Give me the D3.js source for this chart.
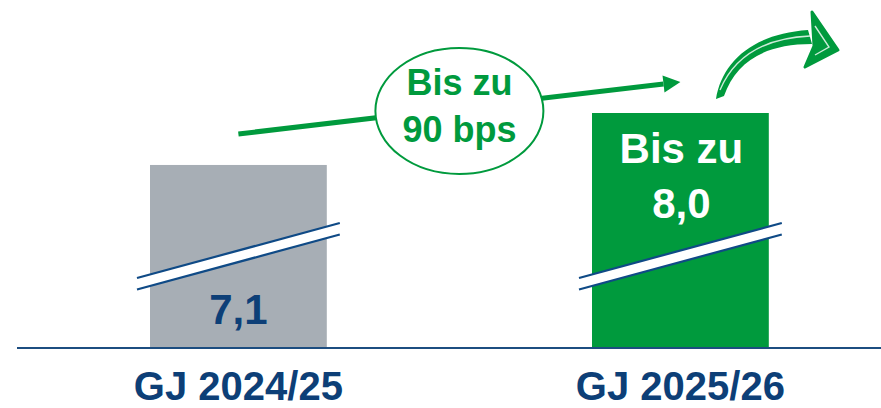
<!DOCTYPE html>
<html>
<head>
<meta charset="utf-8">
<script src="https://cdn.jsdelivr.net/npm/d3@7"></script>
<style>
  html, body { margin: 0; padding: 0; background: #ffffff; }
  svg { display: block; font-family: "Liberation Sans", Arial, sans-serif; }
</style>
</head>
<body>
<svg id="chart" width="881" height="408"></svg>
<script>
// ---- data ----
const categories = ["GJ 2024/25", "GJ 2025/26"];
const values = [7.1, 8.0];
const valueLabels = ["7,1", "Bis zu\n8,0"];
const barColors = ["#a7aeb5", "#009a3d"];
const deltaLabel = ["Bis zu", "90 bps"];
const axisBreakMin = 3.93; // broken value axis: baseline value

// ---- layout ----
const W = 881, H = 408;
const baseY = 348;
const blue = "#0d3f77";
const green = "#009a3d";

const svg = d3.select("#chart");

const x = d3.scaleBand()
  .domain(categories)
  .range([17.4, 901.4])
  .paddingInner(0.6)
  .paddingOuter(0.3);

const y = d3.scaleLinear()
  .domain([axisBreakMin, 8.0])
  .range([baseY, 113]);

// bars
svg.selectAll("rect.bar")
  .data(categories)
  .join("rect")
  .attr("class", "bar")
  .attr("x", d => x(d))
  .attr("y", (d, i) => y(values[i]))
  .attr("width", x.bandwidth())
  .attr("height", (d, i) => baseY - y(values[i]))
  .attr("fill", (d, i) => barColors[i]);

// axis break marks on each bar
const breakY0 = 278, breakSlope = -0.271, breakGap = 11.5, breakExt = 13;
categories.forEach((c) => {
  const x0 = x(c) - breakExt, x1 = x(c) + x.bandwidth() + breakExt;
  const ya = breakY0, yb = breakY0 + (x1 - x0) * breakSlope;
  svg.append("polygon")
    .attr("points", [[x0, ya], [x1, yb], [x1, yb + breakGap], [x0, ya + breakGap]].map(p => p.join(",")).join(" "))
    .attr("fill", "#ffffff");
  [0, breakGap].forEach(off => {
    svg.append("line")
      .attr("x1", x0).attr("y1", ya + off)
      .attr("x2", x1).attr("y2", yb + off)
      .attr("stroke", "#0f4a86").attr("stroke-width", 2.2);
  });
});

// baseline
svg.append("line")
  .attr("x1", 17).attr("x2", W)
  .attr("y1", baseY).attr("y2", baseY)
  .attr("stroke", "#1c4d80").attr("stroke-width", 2.2);

// category labels
svg.selectAll("text.cat")
  .data(categories)
  .join("text")
  .attr("class", "cat")
  .attr("x", d => x(d) + x.bandwidth() / 2)
  .attr("y", 400)
  .attr("text-anchor", "middle")
  .attr("font-size", 40)
  .attr("font-weight", "bold")
  .attr("fill", blue)
  .text(d => d);

// value labels
const cx0 = x(categories[0]) + x.bandwidth() / 2;
const cx1 = x(categories[1]) + x.bandwidth() / 2;
svg.append("text")
  .attr("x", cx0).attr("y", 324)
  .attr("text-anchor", "middle")
  .attr("font-size", 42).attr("font-weight", "bold")
  .attr("fill", blue)
  .text(valueLabels[0]);
valueLabels[1].split("\n").forEach((t, i) => {
  svg.append("text")
    .attr("x", cx1 + 1).attr("y", 163 + i * 55)
    .attr("text-anchor", "middle")
    .attr("font-size", 42).attr("font-weight", "bold")
    .attr("fill", "#ffffff")
    .text(t);
});

// connecting arrow between the bars
const ax0 = cx0, ay0 = y(values[0]) - 31;
const ax1 = cx1, ay1 = y(values[1]) - 31;
const ang = Math.atan2(ay1 - ay0, ax1 - ax0);
const headL = 17, headW = 8.5;
const bx = ax1 - headL * Math.cos(ang), by = ay1 - headL * Math.sin(ang);
svg.append("line")
  .attr("x1", ax0).attr("y1", ay0)
  .attr("x2", bx).attr("y2", by)
  .attr("stroke", green).attr("stroke-width", 5);
svg.append("polygon")
  .attr("points", [
    [ax1, ay1],
    [bx + headW * Math.sin(ang), by - headW * Math.cos(ang)],
    [bx - headW * Math.sin(ang), by + headW * Math.cos(ang)]
  ].map(p => p.join(",")).join(" "))
  .attr("fill", green);

// ellipse with delta label
const ex = (cx0 + cx1) / 2, ey = 111;
svg.append("ellipse")
  .attr("cx", ex).attr("cy", ey)
  .attr("rx", 84).attr("ry", 63)
  .attr("fill", "#ffffff")
  .attr("stroke", green).attr("stroke-width", 2);
deltaLabel.forEach((t, i) => {
  svg.append("text")
    .attr("x", ex).attr("y", 95 + i * 46.5)
    .attr("text-anchor", "middle")
    .attr("font-size", 36).attr("font-weight", "bold")
    .attr("fill", green)
    .text(t);
});

// hand-drawn swoosh arrow (top right)
const sw = svg.append("g");
sw.append("path")
  .attr("d", "M716,99 C722,62 752,34 808,30 L812,44 C764,44 736,62 724,96 Z")
  .attr("fill", green);
sw.append("path")
  .attr("d", "M720,90 C735,55 765,38 810,36")
  .attr("fill", "none").attr("stroke", "#ffffff").attr("stroke-width", 1.4).attr("opacity", 0.8);
sw.append("path")
  .attr("d", "M812,12 L838,50 L805,67 L814,46 Z")
  .attr("fill", green)
  .attr("stroke", green).attr("stroke-width", 3).attr("stroke-linejoin", "round");
sw.append("path")
  .attr("d", "M815,26 L829,47 L815,55")
  .attr("fill", "none").attr("stroke", "#ffffff").attr("stroke-width", 1.4).attr("opacity", 0.8);
</script>
</body>
</html>
